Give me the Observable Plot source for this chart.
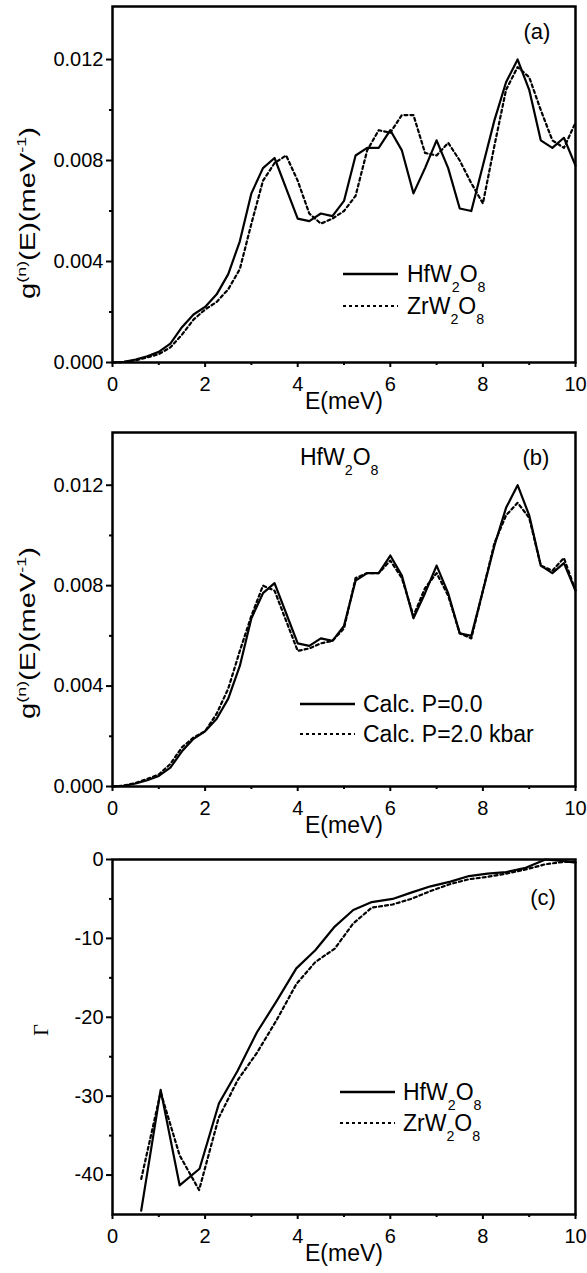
<!DOCTYPE html>
<html><head><meta charset="utf-8">
<script src="https://cdn.jsdelivr.net/npm/d3@7"></script>
<script src="https://cdn.jsdelivr.net/npm/@observablehq/plot@0.6"></script>
<style>
body{margin:0;background:#fff;}
#chart{width:587px;}
#chart svg{display:block;}
</style></head><body><div id="chart"></div>
<script>
// ---------- data ----------
const energyGrid = [0,0.25,0.5,0.75,1,1.25,1.5,1.75,2,2.25,2.5,2.75,3,3.25,3.5,3.75,4,4.25,4.5,4.75,5,5.25,5.5,5.75,6,6.25,6.5,6.75,7,7.25,7.5,7.75,8,8.25,8.5,8.75,9,9.25,9.5,9.75,10];
const gHf = [0,0.00003,0.00012,0.00025,0.00042,0.00075,0.0014,0.0019,0.0022,0.0027,0.0035,0.0048,0.0067,0.0077,0.0081,0.0069,0.0057,0.0056,0.0059,0.0058,0.0064,0.0082,0.0085,0.0085,0.0092,0.0084,0.0067,0.0077,0.0088,0.0077,0.0061,0.0060,0.0078,0.0096,0.0111,0.0120,0.0108,0.0088,0.0085,0.0089,0.0078];
const gZr = [0,0.00002,0.00008,0.0002,0.00033,0.0006,0.0011,0.0017,0.0021,0.0024,0.0029,0.0037,0.0055,0.0072,0.0079,0.0082,0.0072,0.0059,0.0055,0.0057,0.0060,0.0066,0.0084,0.0092,0.0091,0.0098,0.0098,0.0083,0.0082,0.0087,0.0080,0.0071,0.0063,0.0086,0.0108,0.0117,0.0113,0.0100,0.0088,0.0085,0.0095];
const gP2 = [0,0.00004,0.00014,0.0003,0.00048,0.0009,0.00156,0.00195,0.0022,0.0029,0.0039,0.0054,0.0068,0.0080,0.0078,0.0066,0.0054,0.0055,0.0057,0.0058,0.0063,0.0083,0.0085,0.0085,0.0090,0.0083,0.0068,0.0079,0.0085,0.0076,0.0061,0.0059,0.0078,0.0097,0.0108,0.0113,0.0107,0.0088,0.0086,0.0091,0.0078];

const gammaHfE = [0.62,1.04,1.45,1.88,2.3,2.7,3.12,3.55,3.97,4.38,4.8,5.2,5.6,6.05,6.45,6.87,7.3,7.7,8.1,8.5,8.9,9.35,9.75,10];
const gammaHf  = [-44.5,-29.2,-41.3,-39.2,-30.9,-26.8,-21.9,-17.9,-13.8,-11.5,-8.5,-6.4,-5.4,-5.0,-4.2,-3.4,-2.8,-2.1,-1.8,-1.6,-1.1,0,-0.2,-0.4];
const gammaZrE = [0.62,1.04,1.45,1.87,2.29,2.7,3.12,3.55,3.97,4.38,4.8,5.2,5.6,6.05,6.45,6.87,7.3,7.7,8.1,8.5,8.9,9.35,9.75,10];
const gammaZr  = [-40.5,-29.5,-37.5,-41.9,-32.8,-28.0,-24.5,-20.3,-15.8,-13.0,-11.3,-8.1,-6.1,-5.7,-5.0,-4.0,-3.1,-2.5,-2.2,-1.8,-1.3,-0.6,-0.3,-0.3];

const xTicks = [0,2,4,6,8,10];
const xMinor = [1,3,5,7,9];
const gTicks = [0,0.004,0.008,0.012];
const gMinor = [0.002,0.006,0.010];
const gammaTicks = [0,-10,-20,-30,-40];
const gammaMinor = [-5,-15,-25,-35];

const xLabel = "E(meV)";
const panelTags = ["(a)","(b)","(c)"];
const legendA = [["HfW",0],["2",1],["O",0],["8",1]];
const legendA2 = [["ZrW",0],["2",1],["O",0],["8",1]];
const legendB = "Calc. P=0.0";
const legendB2 = "Calc. P=2.0 kbar";
const gLabelParts = [["g",0],["(n)",-1],["(E)(meV",0],["-1",-1],[")",0]];

// ---------- helpers ----------
const FONT = "'Liberation Sans', Arial, Helvetica, sans-serif";
function rows(xs, ys){ return xs.map((x,i)=>({E:x, v:ys[i]})); }

function rich(sel, x, y, parts, size, anchor="start"){
  const t = sel.append("text").attr("x",x).attr("y",y).attr("font-size",size)
    .attr("fill","#000").attr("text-anchor",anchor).attr("font-family",FONT);
  let cur = 0;
  for (const [s, shift] of parts){
    const target = shift===1 ? size*0.42 : shift===-1 ? -size*0.42 : 0;
    const ts = t.append("tspan").attr("dy", target-cur).text(s);
    if (shift) ts.attr("font-size", size*0.62);
    cur = target;
  }
  return t;
}

function panel({height, marginTop, marginBottom, yDomain, yTicks, yMinor, yFormat, solid, dotted}){
  return Plot.plot({
    width:587, height, marginLeft:112, marginRight:12, marginTop, marginBottom,
    style:{fontFamily:FONT, fontSize:"20px", color:"#000", background:"#fff", overflow:"visible"},
    x:{domain:[0,10]},
    y:{domain:yDomain},
    marks:[
      Plot.axisX({ticks:xTicks, tickSize:5, tickPadding:9, label:null, strokeWidth:2, fontSize:20, fill:"#000"}),
      Plot.axisX({ticks:xMinor, tickSize:3, tickFormat:()=>"", label:null, strokeWidth:2}),
      Plot.axisY({ticks:yTicks, tickSize:6, tickPadding:3, tickFormat:yFormat, label:null, strokeWidth:2, fontSize:20, fill:"#000"}),
      Plot.axisY({ticks:yMinor, tickSize:3, tickFormat:()=>"", label:null, strokeWidth:2}),
      Plot.line(solid, {x:"E", y:"v", stroke:"#000", strokeWidth:2.2}),
      Plot.line(dotted, {x:"E", y:"v", stroke:"#000", strokeWidth:2.2, strokeDasharray:"3,3"}),
      Plot.frame({stroke:"#000", strokeWidth:2.5}),
      Plot.text([xLabel], {frameAnchor:"bottom", dy:46, fontSize:23, fill:"#000"})
    ]
  });
}

function legend(svg, x0, y0, gap, label1, label2, textX, size){
  const g = d3.select(svg).append("g");
  g.append("line").attr("x1",x0).attr("x2",x0+55).attr("y1",y0).attr("y2",y0).attr("stroke","#000").attr("stroke-width",2.4);
  g.append("line").attr("x1",x0).attr("x2",x0+55).attr("y1",y0+gap).attr("y2",y0+gap).attr("stroke","#000").attr("stroke-width",2.2).attr("stroke-dasharray","3,3");
  const p1 = typeof label1 === "string" ? [[label1,0]] : label1;
  const p2 = typeof label2 === "string" ? [[label2,0]] : label2;
  rich(g, textX, y0+8, p1, size);
  rich(g, textX, y0+gap+8, p2, size);
}

function yLabel(svg){
  const t = rich(d3.select(svg).append("g").attr("transform","translate(35,213) rotate(-90)"), 0, 0, gLabelParts, 22, "middle");
  t.attr("textLength",172).attr("lengthAdjust","spacingAndGlyphs");
}

const gFormat = d3.format(".3f");
const root = document.getElementById("chart");

// ---------- panel (a) ----------
const svgA = panel({height:420, marginTop:6, marginBottom:58, yDomain:[0,0.0141], yTicks:gTicks, yMinor:gMinor, yFormat:gFormat,
  solid:rows(energyGrid,gHf), dotted:rows(energyGrid,gZr)});
root.appendChild(svgA);
{
  const s = d3.select(svgA);
  s.append("text").attr("x",537).attr("y",39).attr("text-anchor","middle").attr("font-size",22).attr("font-family",FONT).text(panelTags[0]);
  yLabel(svgA);
  legend(svgA, 343, 274, 32, legendA, legendA2, 407, 23);
}

// ---------- panel (b) ----------
const svgB = panel({height:420, marginTop:12, marginBottom:54, yDomain:[0,0.0141], yTicks:gTicks, yMinor:gMinor, yFormat:gFormat,
  solid:rows(energyGrid,gHf), dotted:rows(energyGrid,gP2)});
root.appendChild(svgB);
{
  const s = d3.select(svgB);
  s.append("text").attr("x",536).attr("y",45).attr("text-anchor","middle").attr("font-size",22).attr("font-family",FONT).text(panelTags[1]);
  rich(s, 300, 45, legendA, 23);
  yLabel(svgB);
  legend(svgB, 300, 284, 30, legendB, legendB2, 363, 23);
}

// ---------- panel (c) ----------
const svgC = panel({height:433, marginTop:19, marginBottom:59, yDomain:[-45,0], yTicks:gammaTicks, yMinor:gammaMinor, yFormat:d=>String(d),
  solid:rows(gammaHfE,gammaHf), dotted:rows(gammaZrE,gammaZr)});
root.appendChild(svgC);
{
  const s = d3.select(svgC);
  s.append("text").attr("x",543).attr("y",65).attr("text-anchor","middle").attr("font-size",22).attr("font-family",FONT).text(panelTags[2]);
  s.append("text").attr("transform","translate(48,190) rotate(-90)").attr("text-anchor","middle")
    .attr("font-size",20).attr("font-family","'Liberation Serif', 'Times New Roman', serif").text("Γ");
  legend(svgC, 340, 252, 31, legendA, legendA2, 403, 23);
}
</script></body></html>
